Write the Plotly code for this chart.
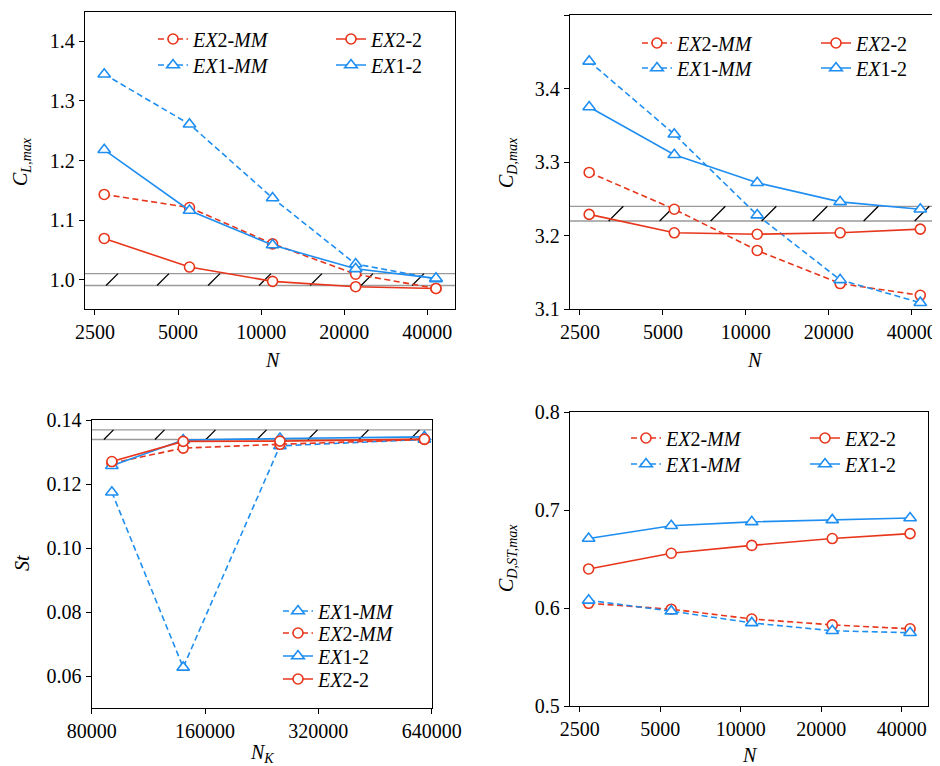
import math
import plotly.graph_objects as go

# ---------------- data ----------------
N = [2700, 5500, 11000, 22000, 43000]
NK = [90500, 140000, 253000, 612000]

CL_EX2_MM = [1.143, 1.121, 1.060, 1.009, 0.985]
CL_EX1_MM = [1.345, 1.261, 1.137, 1.026, 1.001]
CL_EX2_2 = [1.069, 1.021, 0.997, 0.988, 0.985]
CL_EX1_2 = [1.218, 1.116, 1.058, 1.018, 1.002]

CD_EX2_MM = [3.286, 3.236, 3.180, 3.135, 3.119]
CD_EX1_MM = [3.437, 3.338, 3.228, 3.140, 3.109]
CD_EX2_2 = [3.229, 3.204, 3.202, 3.204, 3.209]
CD_EX1_2 = [3.375, 3.310, 3.272, 3.246, 3.236]

ST_EX1_MM = [0.1175, 0.0627, 0.1320, 0.1340]
ST_EX2_MM = [0.1266, 0.1313, 0.1325, 0.1340]
ST_EX1_2 = [0.1258, 0.1338, 0.1343, 0.1348]
ST_EX2_2 = [0.1271, 0.1334, 0.1335, 0.1341]

CDST_EX2_MM = [0.605, 0.599, 0.589, 0.583, 0.579]
CDST_EX1_MM = [0.608, 0.597, 0.585, 0.577, 0.575]
CDST_EX2_2 = [0.640, 0.656, 0.664, 0.671, 0.676]
CDST_EX1_2 = [0.671, 0.684, 0.688, 0.690, 0.692]

BAND_CL = [0.99, 1.01]
BAND_CD = [3.22, 3.24]
BAND_ST = [0.134, 0.137]

N_TICKS = [2500, 5000, 10000, 20000, 40000]
NK_TICKS = [80000, 160000, 320000, 640000]

LABELS = {
    "EX2-MM": "<i>EX</i>2-<i>MM</i>",
    "EX1-MM": "<i>EX</i>1-<i>MM</i>",
    "EX2-2": "<i>EX</i>2-2",
    "EX1-2": "<i>EX</i>1-2",
}

# ---------------- styling ----------------
OFF = 8  # page body margin offset
W, H = 940 - OFF, 766 - OFF
RED = "#e8361c"
BLUE = "#1f8ef1"
FONT = "Liberation Serif"
DASH = "6px,3.5px"
HATCH_STEP = 51  # px between hatch strokes


def px(x):
    return (x - OFF) / W


def py(y):
    return 1 - (y - OFF) / H


def font(size=20):
    return dict(family=FONT, size=size, color="black")


STYLE = {
    "EX2-MM": dict(color=RED, dash=DASH, symbol="circle", size=10),
    "EX1-MM": dict(color=BLUE, dash=DASH, symbol="triangle-up", size=11),
    "EX2-2": dict(color=RED, dash="solid", symbol="circle", size=10),
    "EX1-2": dict(color=BLUE, dash="solid", symbol="triangle-up", size=11),
}

fig = go.Figure()

panels = [
    dict(ax="", box=(85, 11.7, 455, 309.3), x=N, xr=(2300, 50400), xt=N_TICKS,
         yr=(0.95, 1.45), dy=0.1, t0=1.0, fmt=".1f", band=BAND_CL, hatch0=27,
         series=[("EX2-MM", CL_EX2_MM), ("EX1-MM", CL_EX1_MM), ("EX2-2", CL_EX2_2), ("EX1-2", CL_EX1_2)],
         leg={"EX2-MM": (193, 39), "EX1-MM": (193, 65), "EX2-2": (371, 39), "EX1-2": (371, 65)},
         xtitle=("<i>N</i>", 273, 360), ytitle=("<i>C</i><sub><i>L,max</i></sub>", 22, 162)),
    dict(ax="2", box=(570, 15, 939.3, 309.3), x=N, xr=(2300, 50400), xt=N_TICKS,
         yr=(3.1, 3.5), dy=0.1, t0=3.1, fmt=".1f", band=BAND_CD, hatch0=46,
         series=[("EX2-MM", CD_EX2_MM), ("EX1-MM", CD_EX1_MM), ("EX2-2", CD_EX2_2), ("EX1-2", CD_EX1_2)],
         leg={"EX2-MM": (677, 43), "EX1-MM": (677, 68), "EX2-2": (856, 43), "EX1-2": (856, 68)},
         xtitle=("<i>N</i>", 755, 360), ytitle=("<i>C</i><sub><i>D,max</i></sub>", 507, 163)),
    dict(ax="3", box=(91.7, 420.3, 431.7, 708), x=NK, xr=(80000, 640000), xt=NK_TICKS,
         yr=(0.05, 0.14), dy=0.02, t0=0.06, fmt=".2f", band=BAND_ST, hatch0=17,
         series=[("EX1-MM", ST_EX1_MM), ("EX2-MM", ST_EX2_MM), ("EX1-2", ST_EX1_2), ("EX2-2", ST_EX2_2)],
         leg={"EX1-MM": (318, 611), "EX2-MM": (318, 633), "EX1-2": (318, 656), "EX2-2": (318, 679)},
         xtitle=("<i>N</i><sub><i>K</i></sub>", 262, 753), ytitle=("<i>St</i>", 22, 563)),
    dict(ax="4", box=(570, 412, 928.3, 706.3), x=N, xr=(2300, 50300), xt=N_TICKS,
         yr=(0.5, 0.8), dy=0.1, t0=0.5, fmt=".1f", band=None, hatch0=0,
         series=[("EX2-MM", CDST_EX2_MM), ("EX1-MM", CDST_EX1_MM), ("EX2-2", CDST_EX2_2), ("EX1-2", CDST_EX1_2)],
         leg={"EX2-MM": (666, 438), "EX1-MM": (666, 464), "EX2-2": (845, 438), "EX1-2": (845, 464)},
         xtitle=("<i>N</i>", 750, 755), ytitle=("<i>C</i><sub><i>D,ST,max</i></sub>", 507, 558)),
]

fig.update_layout(
    template="none",
    width=W, height=H,
    margin=dict(l=0, r=0, t=0, b=0),
    paper_bgcolor="white", plot_bgcolor="white",
    font=font(),
)

annotations = []
shapes = []
legend_count = 0
for p in panels:
    xa = "x" + p["ax"]
    ya = "y" + p["ax"]
    x0, y0, x1, y1 = p["box"]
    fig.layout["xaxis" + p["ax"]] = dict(
        showline=True, mirror=True, linecolor="black", linewidth=1.3,
        ticks="outside", ticklen=5, tickwidth=1.1, tickcolor="black",
        showgrid=False, zeroline=False, automargin=False,
        tickfont=font(),
        type="log", domain=[px(x0), px(x1)], anchor=ya,
        range=[math.log10(p["xr"][0]), math.log10(p["xr"][1])],
        tickvals=p["xt"], ticktext=[str(v) for v in p["xt"]],
    )
    fig.layout["yaxis" + p["ax"]] = dict(
        showline=True, mirror=True, linecolor="black", linewidth=1.3,
        ticks="outside", ticklen=5, tickwidth=1.1, tickcolor="black",
        showgrid=False, zeroline=False, automargin=False,
        tickfont=font(),
        domain=[py(y1), py(y0)], anchor=xa,
        range=list(p["yr"]), tick0=p["t0"], dtick=p["dy"], tickformat=p["fmt"],
    )

    if p["band"] is not None:
        lo, hi = p["band"]
        for yv in (lo, hi):
            shapes.append(dict(type="line", xref=xa + " domain", yref=ya, x0=0, x1=1, y0=yv, y1=yv,
                               line=dict(color="#9a9a9a", width=1.3), layer="below"))
        width_px = x1 - x0
        height_px = (y1 - y0) * (hi - lo) / (p["yr"][1] - p["yr"][0])
        dxf = height_px / width_px
        pos = p["hatch0"]
        while pos + height_px / 2 < width_px:
            c = pos / width_px
            if c - dxf / 2 > 0:
                shapes.append(dict(type="line", xref=xa + " domain", yref=ya,
                                   x0=c - dxf / 2, x1=c + dxf / 2, y0=lo, y1=hi,
                                   line=dict(color="black", width=1.3), layer="below"))
            pos += HATCH_STEP

    for name, vals in p["series"]:
        st = STYLE[name]
        legend_count += 1
        lname = "legend" if legend_count == 1 else "legend%d" % legend_count
        tx, ty = p["leg"][name]
        fig.layout[lname] = dict(
            x=px(tx - 40), y=py(ty - 19.5), xanchor="left", yanchor="top",
            bgcolor="rgba(0,0,0,0)", borderwidth=0, font=font(),
        )
        fig.add_trace(go.Scatter(
            x=p["x"], y=vals, xaxis=xa, yaxis=ya, mode="lines+markers",
            name=LABELS[name], legend=lname, showlegend=True,
            line=dict(color=st["color"], width=1.6, dash=st["dash"]),
            marker=dict(symbol=st["symbol"], size=st["size"], color="white",
                        line=dict(color=st["color"], width=1.6)),
        ))

    t, ax_, ay_ = p["xtitle"]
    annotations.append(dict(
        text=t, x=px(ax_), y=py(ay_), xref="paper", yref="paper",
        showarrow=False, xanchor="center", yanchor="middle", font=font(),
    ))
    t, ax_, ay_ = p["ytitle"]
    annotations.append(dict(
        text=t, x=px(ax_), y=py(ay_), xref="paper", yref="paper",
        showarrow=False, xanchor="center", yanchor="middle", textangle=-90, font=font(),
    ))

fig.update_layout(annotations=annotations, shapes=shapes)
fig.write_html("out.html")
